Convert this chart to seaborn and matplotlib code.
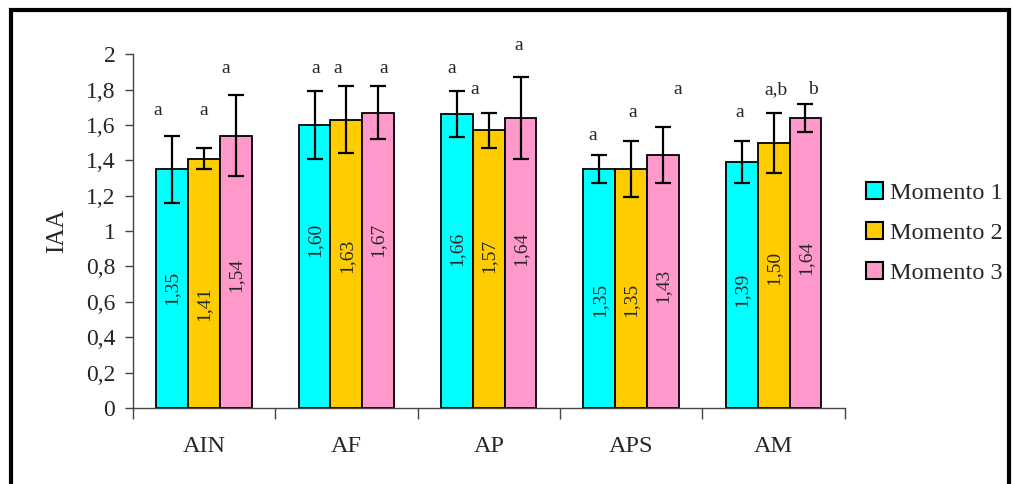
import matplotlib
matplotlib.use("Agg")
import matplotlib.pyplot as plt
import seaborn as sns
import pandas as pd
import numpy as np
from matplotlib.patches import Rectangle

sns.set_theme(style="white")
plt.rcParams['font.family'] = ['Liberation Serif', 'DejaVu Serif']

categories = ["AIN", "AF", "AP", "APS", "AM"]
series = ["Momento 1", "Momento 2", "Momento 3"]
m1 = [1.35, 1.60, 1.66, 1.35, 1.39]
m2 = [1.41, 1.63, 1.57, 1.35, 1.50]
m3 = [1.54, 1.67, 1.64, 1.43, 1.64]
e1 = [0.19, 0.19, 0.13, 0.08, 0.12]
e2 = [0.06, 0.19, 0.10, 0.16, 0.17]
e3 = [0.23, 0.15, 0.23, 0.16, 0.08]
let1 = ["a", "a", "a", "a", "a"]
let2 = ["a", "a", "a", "a", "a,b"]
let3 = ["a", "a", "a", "a", "b"]
# annotation placement (letters and value labels)
lety1 = [1.68, 1.92, 1.92, 1.54, 1.67]
lety2 = [1.68, 1.92, 1.80, 1.67, 1.80]
lety3 = [1.92, 1.92, 2.05, 1.80, 1.80]
letdx1 = [-0.10, 0.01, -0.035, -0.05, -0.015]
letdx2 = [0.0, -0.06, -0.10, 0.01, 0.02]
letdx3 = [-0.07, 0.04, -0.01, 0.10, 0.055]
laby1 = [0.68, 0.95, 0.90, 0.61, 0.67]
laby2 = [0.59, 0.86, 0.86, 0.61, 0.79]
laby3 = [0.75, 0.95, 0.90, 0.69, 0.85]
colors = ["#00FFFF", "#FFCC00", "#FF99CC"]

vals = [m1, m2, m3]
errs = [e1, e2, e3]
lets = [let1, let2, let3]
letys = [lety1, lety2, lety3]
letdxs = [letdx1, letdx2, letdx3]
labys = [laby1, laby2, laby3]

df = pd.DataFrame({
    "cat": np.repeat([categories], 3, axis=0).ravel(),
    "ser": np.repeat(series, len(categories)),
    "val": np.concatenate(vals),
})

fig = plt.figure(figsize=(10.13, 4.84), dpi=100)
ax = fig.add_axes([0.131, 0.157, 0.703, 0.731])
sns.barplot(data=df, x="cat", y="val", hue="ser", palette=colors,
            width=0.67, edgecolor="black", linewidth=1.3, errorbar=None,
            saturation=1, ax=ax, order=categories, hue_order=series)

bar_conts = list(ax.containers)
for i, cont in enumerate(bar_conts):
    xs = [p.get_x() + p.get_width() / 2 for p in cont.patches]
    ax.errorbar(xs, vals[i], yerr=errs[i], fmt="none", ecolor="black",
                elinewidth=1.6, capsize=6, capthick=1.6, zorder=5)
    for x, v, l, ly, dx, by in zip(xs, vals[i], lets[i], letys[i], letdxs[i], labys[i]):
        ax.text(x, by, f"{v:.2f}".replace(".", ","), rotation=90,
                ha="center", va="center", fontsize=14)
        ax.text(x + dx, ly, l, ha="center", va="center", fontsize=14)

ax.set_ylim(0, 2)
ax.set_xlim(-0.5, len(categories) - 0.5)
yt = np.arange(0, 2.01, 0.2)
ax.set_yticks(yt)
ax.set_yticklabels([("%g" % round(t, 1)).replace(".", ",") for t in yt], fontsize=17)
ax.set_xticks(range(len(categories)))
ax.set_xticklabels(categories, fontsize=17.5)
ax.set_xticks(np.arange(-0.5, len(categories), 1.0), minor=True)
ax.tick_params(axis="x", which="major", length=0, pad=20)
ax.tick_params(axis="x", which="minor", length=8, width=1, color="#444444", direction="out", bottom=True)
ax.tick_params(axis="y", length=6, width=1, color="#444444", direction="out", left=True, pad=6.5)
ax.set_xlabel("")
ax.set_ylabel("IAA", fontsize=18, labelpad=13)
for s in ["top", "right"]:
    ax.spines[s].set_visible(False)
for s in ["left", "bottom"]:
    ax.spines[s].set_color("#444444")
    ax.spines[s].set_linewidth(1)

leg = ax.legend(loc="center left", bbox_to_anchor=(0.855, 0.519), bbox_transform=fig.transFigure,
                frameon=False, fontsize=17.5, handlelength=0.7, handleheight=0.7,
                handletextpad=0.3, labelspacing=0.75, borderaxespad=0, borderpad=0)
for h in leg.legend_handles:
    h.set_edgecolor("black")
    h.set_linewidth(1.5)

fig.patches.append(Rectangle((11 / 1013, -0.1), 998 / 1013, 1.1 - 10 / 484,
                             transform=fig.transFigure, fill=False,
                             edgecolor="black", linewidth=3, zorder=10))

fig.savefig("out.png", dpi=100)
